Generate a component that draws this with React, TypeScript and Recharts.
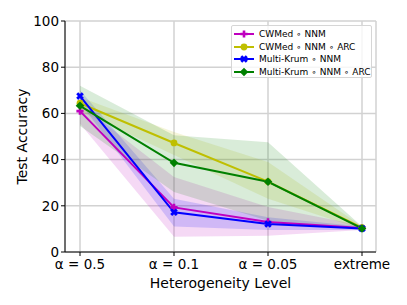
import {
  Area,
  CartesianGrid,
  ComposedChart,
  Line,
  XAxis,
  YAxis,
} from "recharts";

const categories = ["α = 0.5", "α = 0.1", "α = 0.05", "extreme"];

const cwmed = [61, 19.3, 13, 10.4];
const cwmedLow = [55.5, 6.6, 7, 9.5];
const cwmedHigh = [64, 32.5, 19.5, 11.5];

const cwmedArc = [64.4, 47.2, 30.5, 10.5];
const cwmedArcLow = [61, 42, 23, 9.8];
const cwmedArcHigh = [67, 52, 39, 11.2];

const krum = [67.5, 17.2, 12.1, 10.2];
const krumLow = [64.5, 11, 9.5, 9.5];
const krumHigh = [70, 23, 15, 11];

const krumArc = [63.3, 38.6, 30.4, 10.2];
const krumArcLow = [54.5, 26, 13.5, 9.5];
const krumArcHigh = [72, 50.5, 47.5, 11];

const yTicks = [0, 20, 40, 60, 80, 100];

type Kind = "plus" | "circle" | "x" | "diamond";

const series: { key: string; name: string; color: string; kind: Kind }[] = [
  { key: "cwmed", name: "CWMed ∘ NNM", color: "#bf00bf", kind: "plus" },
  { key: "cwmedArc", name: "CWMed ∘ NNM ∘ ARC", color: "#bfbf00", kind: "circle" },
  { key: "krum", name: "Multi-Krum ∘ NNM", color: "#0000ff", kind: "x" },
  { key: "krumArc", name: "Multi-Krum ∘ NNM ∘ ARC", color: "#008000", kind: "diamond" },
];

const data = categories.map((cat, i) => ({
  cat,
  cwmed: cwmed[i],
  cwmedBand: [cwmedLow[i], cwmedHigh[i]],
  cwmedArc: cwmedArc[i],
  cwmedArcBand: [cwmedArcLow[i], cwmedArcHigh[i]],
  krum: krum[i],
  krumBand: [krumLow[i], krumHigh[i]],
  krumArc: krumArc[i],
  krumArcBand: [krumArcLow[i], krumArcHigh[i]],
}));

const FONT = "'DejaVu Sans', sans-serif";

function Marker({ kind, cx, cy, color }: { kind: Kind; cx: number; cy: number; color: string }) {
  const a = 3.6; // half length
  const w = 1.3; // half arm width
  const plus = `M${-w},${-a}H${w}V${-w}H${a}V${w}H${w}V${a}H${-w}V${w}H${-a}V${-w}H${-w}Z`;
  if (kind === "circle") return <circle cx={cx} cy={cy} r={3.4} fill={color} />;
  if (kind === "diamond")
    return (
      <polygon
        points={`${cx},${cy - 4.3} ${cx + 4.3},${cy} ${cx},${cy + 4.3} ${cx - 4.3},${cy}`}
        fill={color}
      />
    );
  return (
    <path
      d={plus}
      fill={color}
      transform={`translate(${cx},${cy}) rotate(${kind === "x" ? 45 : 0}) scale(${kind === "x" ? 1.1 : 1})`}
    />
  );
}

function YLabel({ viewBox }: any) {
  const x = viewBox.x + 22;
  const y = viewBox.y + viewBox.height / 2;
  return (
    <text
      x={x}
      y={y}
      transform={`rotate(-90 ${x} ${y})`}
      textAnchor="middle"
      dominantBaseline="central"
      fontSize={14}
      fontFamily={FONT}
      fill="#000"
    >
      Test Accuracy
    </text>
  );
}

function LegendBox() {
  return (
    <div
      style={{
        position: "absolute",
        left: 231,
        top: 25,
        width: 141,
        height: 53,
        boxSizing: "border-box",
        background: "rgba(255,255,255,0.8)",
        border: "1px solid #d6d6d6",
        borderRadius: 2,
        fontFamily: FONT,
        fontSize: 9,
        color: "#000",
        paddingTop: 2,
      }}
    >
      {series.map((s) => (
        <div key={s.key} style={{ display: "flex", alignItems: "center", height: 12.6 }}>
          <svg width={27} height={12} style={{ flex: "none" }}>
            <line x1={2} x2={22} y1={6} y2={6} stroke={s.color} strokeWidth={2} />
            <Marker kind={s.kind} cx={12} cy={6} color={s.color} />
          </svg>
          <span style={{ whiteSpace: "nowrap" }}>{s.name}</span>
        </div>
      ))}
    </div>
  );
}

export default function App() {
  return (
    <div style={{ position: "absolute", left: 0, top: 0, width: 407, height: 305, background: "#fff" }}>
      <ComposedChart
        width={407}
        height={305}
        data={data}
        margin={{ top: 21, right: 31, bottom: 0, left: 0 }}
      >
        <CartesianGrid stroke="#d2d2d2" strokeWidth={1.5} />
        <XAxis
          dataKey="cat"
          padding={{ left: 15, right: 14 }}
          height={53}
          tickSize={4}
          tickMargin={3}
          stroke="#000"
          tick={{ fill: "#000", fontSize: 13.5, fontFamily: FONT }}
          label={{
            value: "Heterogeneity Level",
            position: "insideBottom",
            offset: 17,
            fill: "#000",
            fontSize: 14,
            fontFamily: FONT,
          }}
        />
        <XAxis
          xAxisId="top"
          dataKey="cat"
          orientation="top"
          padding={{ left: 15, right: 14 }}
          height={0}
          tick={false}
          tickLine={false}
          stroke="#000"
        />
        <YAxis
          domain={[0, 100]}
          ticks={yTicks}
          width={65}
          tickSize={4}
          stroke="#000"
          tick={{ fill: "#000", fontSize: 13.5, fontFamily: FONT }}
          label={<YLabel />}
        />
        <YAxis
          yAxisId="right"
          orientation="right"
          domain={[0, 100]}
          width={0}
          tick={false}
          tickLine={false}
          stroke="#000"
        />
        {series.map((s) => (
          <Area
            key={s.key + "Band"}
            dataKey={s.key + "Band"}
            stroke="none"
            fill={s.color}
            fillOpacity={0.15}
            isAnimationActive={false}
            activeDot={false}
          />
        ))}
        {series.map((s) => (
          <Line
            key={s.key}
            dataKey={s.key}
            stroke={s.color}
            strokeWidth={2}
            isAnimationActive={false}
            activeDot={false}
            dot={(p: any) => (
              <Marker key={s.key + p.index} kind={s.kind} cx={p.cx} cy={p.cy} color={s.color} />
            )}
          />
        ))}
      </ComposedChart>
      <LegendBox />
    </div>
  );
}
